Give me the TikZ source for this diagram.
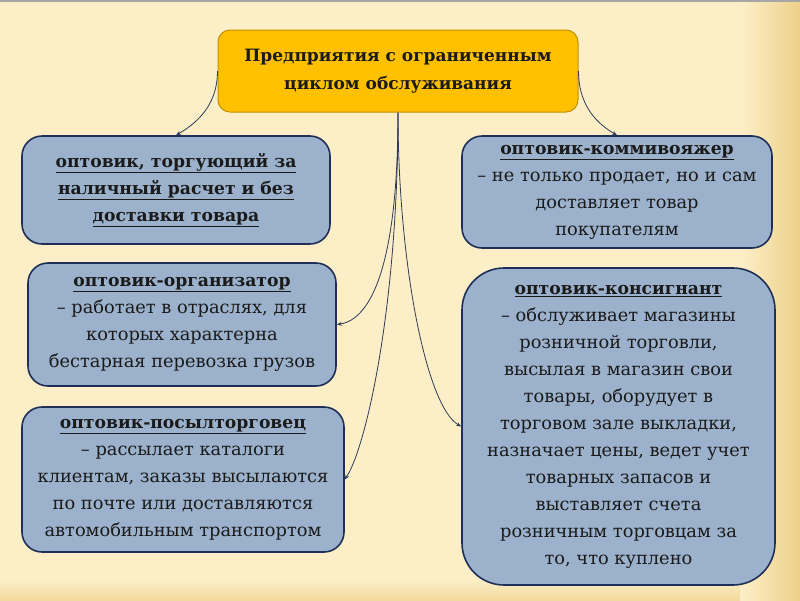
\documentclass[tikz,border=0pt]{standalone}
\usepackage{fontspec}
\setmainfont{DejaVu Serif}
\usetikzlibrary{arrows.meta}
\definecolor{bgcream}{HTML}{FCEFC8}
\definecolor{bggold}{HTML}{EDD08A}
\definecolor{topfill}{HTML}{FFC000}
\definecolor{topdraw}{HTML}{C09000}
\definecolor{boxfill}{HTML}{9CB2CC}
\definecolor{boxdraw}{HTML}{1F2F5A}
\definecolor{linkcol}{HTML}{2E3A58}
\definecolor{txt}{HTML}{1A1A1A}
\newcommand{\ttl}[1]{{\fontsize{17.2}{27}\selectfont\underline{\textbf{#1}}}}
\begin{document}
\begin{tikzpicture}[x=1pt,y=-1pt,
  topbox/.style={draw=topdraw, fill=topfill, line width=1pt, rounded corners=12pt,
    minimum width=360pt, minimum height=82pt, inner sep=0pt, align=center,
    text=txt, font=\fontsize{17}{28}\selectfont\bfseries},
  infobox/.style={draw=boxdraw, fill=boxfill, line width=1.6pt, rounded corners=20pt,
    inner sep=0pt, align=center, text=txt, font=\fontsize{17.8}{27}\selectfont},
  link/.style={draw=linkcol, line width=0.8pt, -{Stealth[length=5pt,width=4pt]}}]
% background
\useasboundingbox (0,0) rectangle (800,600);
\fill[bgcream] (0,0) rectangle (800,600);
\shade[left color=bgcream, right color=bggold] (740,0) rectangle (800,600);
\shade[top color=bgcream, bottom color=bggold!70!bgcream] (0,580) rectangle (740,600);
\draw[gray!70, line width=1.5pt] (0,0.75) -- (800,0.75);

% nodes
\node[topbox] (top) at (398,71) {Предприятия с ограниченным\\циклом обслуживания};
\node[infobox, minimum width=308pt, minimum height=108pt] (b1) at (176,190)
  {\ttl{оптовик, торгующий за}\\\ttl{наличный расчет и без}\\\ttl{доставки товара}};
\node[infobox, minimum width=308pt, minimum height=123pt] (b2) at (182,324.5)
  {\ttl{оптовик-организатор}\\– работает в отраслях, для\\которых характерна\\бестарная перевозка грузов};
\node[infobox, minimum width=322pt, minimum height=145pt] (b3) at (183,479.5)
  {\ttl{оптовик-посылторговец}\\– рассылает каталоги\\клиентам, заказы высылаются\\по почте или доставляются\\автомобильным транспортом};
\node[infobox, minimum width=310pt, minimum height=112pt] (b4) at (617,192)
  {\ttl{оптовик-коммивояжер}\\– не только продает, но и сам\\доставляет товар\\покупателям};
\node[infobox, rounded corners=42pt, minimum width=313pt, minimum height=317pt] (b5) at (618.5,426.5)
  {\ttl{оптовик-консигнант}\\– обслуживает магазины\\розничной торговли,\\высылая в магазин свои\\товары, оборудует в\\торговом зале выкладки,\\назначает цены, ведет учет\\товарных запасов и\\выставляет счета\\розничным торговцам за\\то, что куплено};

% connectors
\draw[link] (top.west) to[out=-90, in=30] (b1.north);
\draw[link] (top.east) to[out=-90, in=150] (b4.north);
\draw[link] (top.south) .. controls +(0,150) and +(35,-5) .. (b2.east);
\draw[link] (top.south) .. controls +(0,200) and +(20,-30) .. (b3.east);
\draw[link] (top.south) .. controls +(0,150) and +(-35,-20) .. (b5.west);
\end{tikzpicture}
\end{document}
